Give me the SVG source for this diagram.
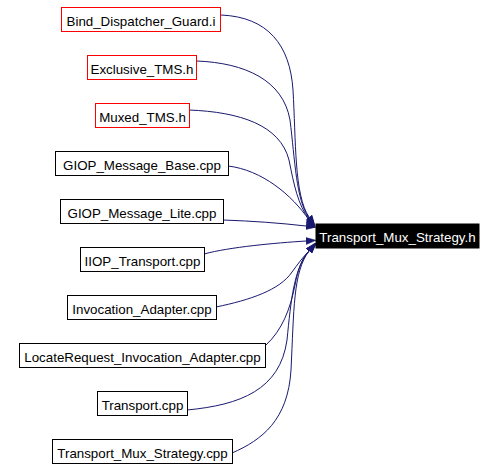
<svg xmlns="http://www.w3.org/2000/svg" width="496" height="470" viewBox="0 0 496 470">
<style>
.bg{fill:#ffffff}
.n rect{fill:#ffffff;stroke:#000000;stroke-width:1}
.n.r rect{stroke:#ff0000}
.n text{font-family:"Liberation Sans",Arial,sans-serif;font-size:13.33px;fill:#000000;text-anchor:middle}
#target rect{fill:#000000;stroke:#000000}
#target text{fill:#ffffff}
.e path{fill:none;stroke:#191970;stroke-width:1;marker-end:url(#arr)}
</style>
<defs>
<marker id="arr" viewBox="0 -4 10 8" refX="0" refY="0" markerWidth="10" markerHeight="8" markerUnits="userSpaceOnUse" orient="auto">
<path d="M0,-3.5 L10,0 L0,3.5 z" fill="#191970" stroke="#191970" stroke-width="0.5"/>
</marker>
</defs>
<rect class="bg" x="0" y="0" width="496" height="470"/>
<g id="edges" class="e">
<path d="M221,15 C268,17 290,45 293,90 C296,140 294,195 309,217"/>
<path d="M197,61 C245,63 283,80 290,120 C295,160 296,200 309,218"/>
<path d="M189,110 C240,112 280,125 289,160 C294,185 298,205 309,219"/>
<path d="M228,166 C262,170 292,195 309,220"/>
<path d="M223,220 C252,221 280,223 306,226"/>
<path d="M204,254 C230,247 275,243 306,241"/>
<path d="M216,307 C250,300 280,290 292,272 C298,264 302,258 309,251"/>
<path d="M266,345 C282,330 290,310 295,285 C298,270 301,260 309,251"/>
<path d="M187,410 C240,405 280,390 287,340 C291,300 294,268 309,251"/>
<path d="M232,453 C262,440 288,420 291,370 C294,310 293,272 309,251"/>
</g>
<g id="n1" class="n r"><rect x="61.5" y="7.5" width="159" height="24"/><text x="141" y="26">Bind_Dispatcher_Guard.i</text></g>
<g id="n2" class="n r"><rect x="87.5" y="55.5" width="109" height="24"/><text x="142" y="74">Exclusive_TMS.h</text></g>
<g id="n3" class="n r"><rect x="95.5" y="103.5" width="94" height="24"/><text x="142.5" y="122">Muxed_TMS.h</text></g>
<g id="n4" class="n"><rect x="55.5" y="151.5" width="173" height="24"/><text x="142" y="170">GIOP_Message_Base.cpp</text></g>
<g id="n5" class="n"><rect x="60.5" y="199.5" width="163" height="24"/><text x="142" y="218">GIOP_Message_Lite.cpp</text></g>
<g id="n6" class="n"><rect x="80.5" y="247.5" width="124" height="24"/><text x="142.5" y="266">IIOP_Transport.cpp</text></g>
<g id="n7" class="n"><rect x="67.5" y="295.5" width="149" height="24"/><text x="142" y="314">Invocation_Adapter.cpp</text></g>
<g id="n8" class="n"><rect x="19.5" y="343.5" width="246" height="24"/><text x="142.5" y="362">LocateRequest_Invocation_Adapter.cpp</text></g>
<g id="n9" class="n"><rect x="97.5" y="391.5" width="90" height="24"/><text x="142.5" y="410">Transport.cpp</text></g>
<g id="n10" class="n"><rect x="52.5" y="439.5" width="180" height="24"/><text x="142.5" y="458">Transport_Mux_Strategy.cpp</text></g>
<g id="target" class="n"><rect x="316" y="224" width="163" height="24"/><text x="397.5" y="242">Transport_Mux_Strategy.h</text></g>
</svg>
